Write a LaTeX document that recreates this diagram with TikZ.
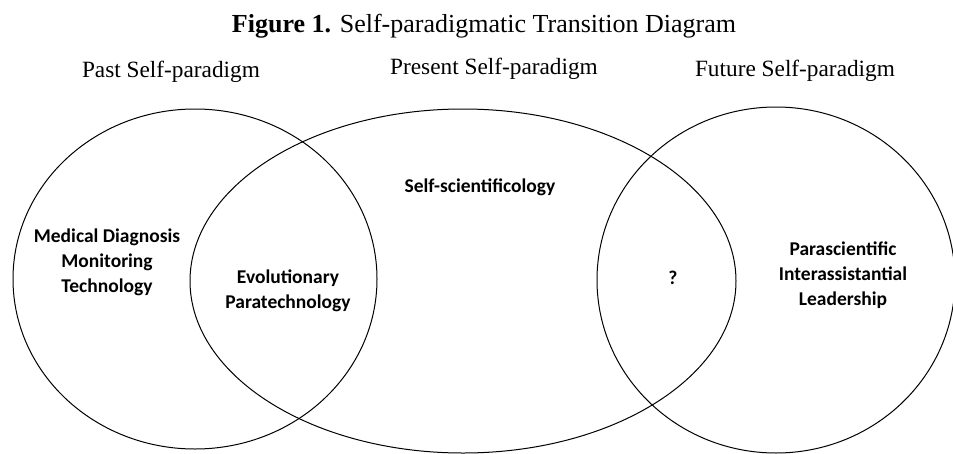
\documentclass[tikz,border=0pt]{standalone}
\usepackage{fontspec}
\setmainfont{Liberation Serif}
\newfontfamily\lblfont{Carlito}
\usetikzlibrary{shapes.geometric}
\tikzset{
  setring/.style={ellipse, draw, line width=1pt, inner sep=0pt, outer sep=0pt},
  headlbl/.style={anchor=base, inner sep=0pt, font=\fontsize{23.3}{26}\selectfont},
  boldlbl/.style={align=center, inner sep=0pt, font=\lblfont\bfseries\fontsize{19.5}{25}\selectfont}
}
\begin{document}
\begin{tikzpicture}[x=1pt,y=-1pt]
\useasboundingbox (0,0) rectangle (953,453);
\clip (0,0) rectangle (953,453);
\fill[white] (0,0) rectangle (953,453);
% title
\node[anchor=base, inner sep=0pt, font=\fontsize{26}{30}\selectfont] (title) at (484,32) {\textbf{Figure 1.} Self-paradigmatic Transition Diagram};
% headers
\node[headlbl] (pasth) at (171,77) {Past Self-paradigm};
\node[headlbl] (presh) at (494,74) {Present Self-paradigm};
\node[headlbl] (futh) at (795,76) {Future Self-paradigm};
% sets
\node[setring, minimum width=364pt, minimum height=340pt] (past) at (195,279) {};
\node[setring, minimum width=546pt, minimum height=344pt] (present) at (463,281) {};
\node[setring, minimum width=358pt, minimum height=346pt] (future) at (776,280) {};
% labels
\node[boldlbl] (med) at (107,262) {Medical Diagnosis\\Monitoring\\Technology};
\node[boldlbl] (evo) at (288,291) {Evolutionary\\Paratechnology};
\node[boldlbl] (ssci) at (480,187) {Self-scientificology};
\node[boldlbl] (q) at (673,278) {?};
\node[boldlbl] (para) at (843,275) {Parascientific\\Interassistantial\\Leadership};
\end{tikzpicture}
\end{document}
